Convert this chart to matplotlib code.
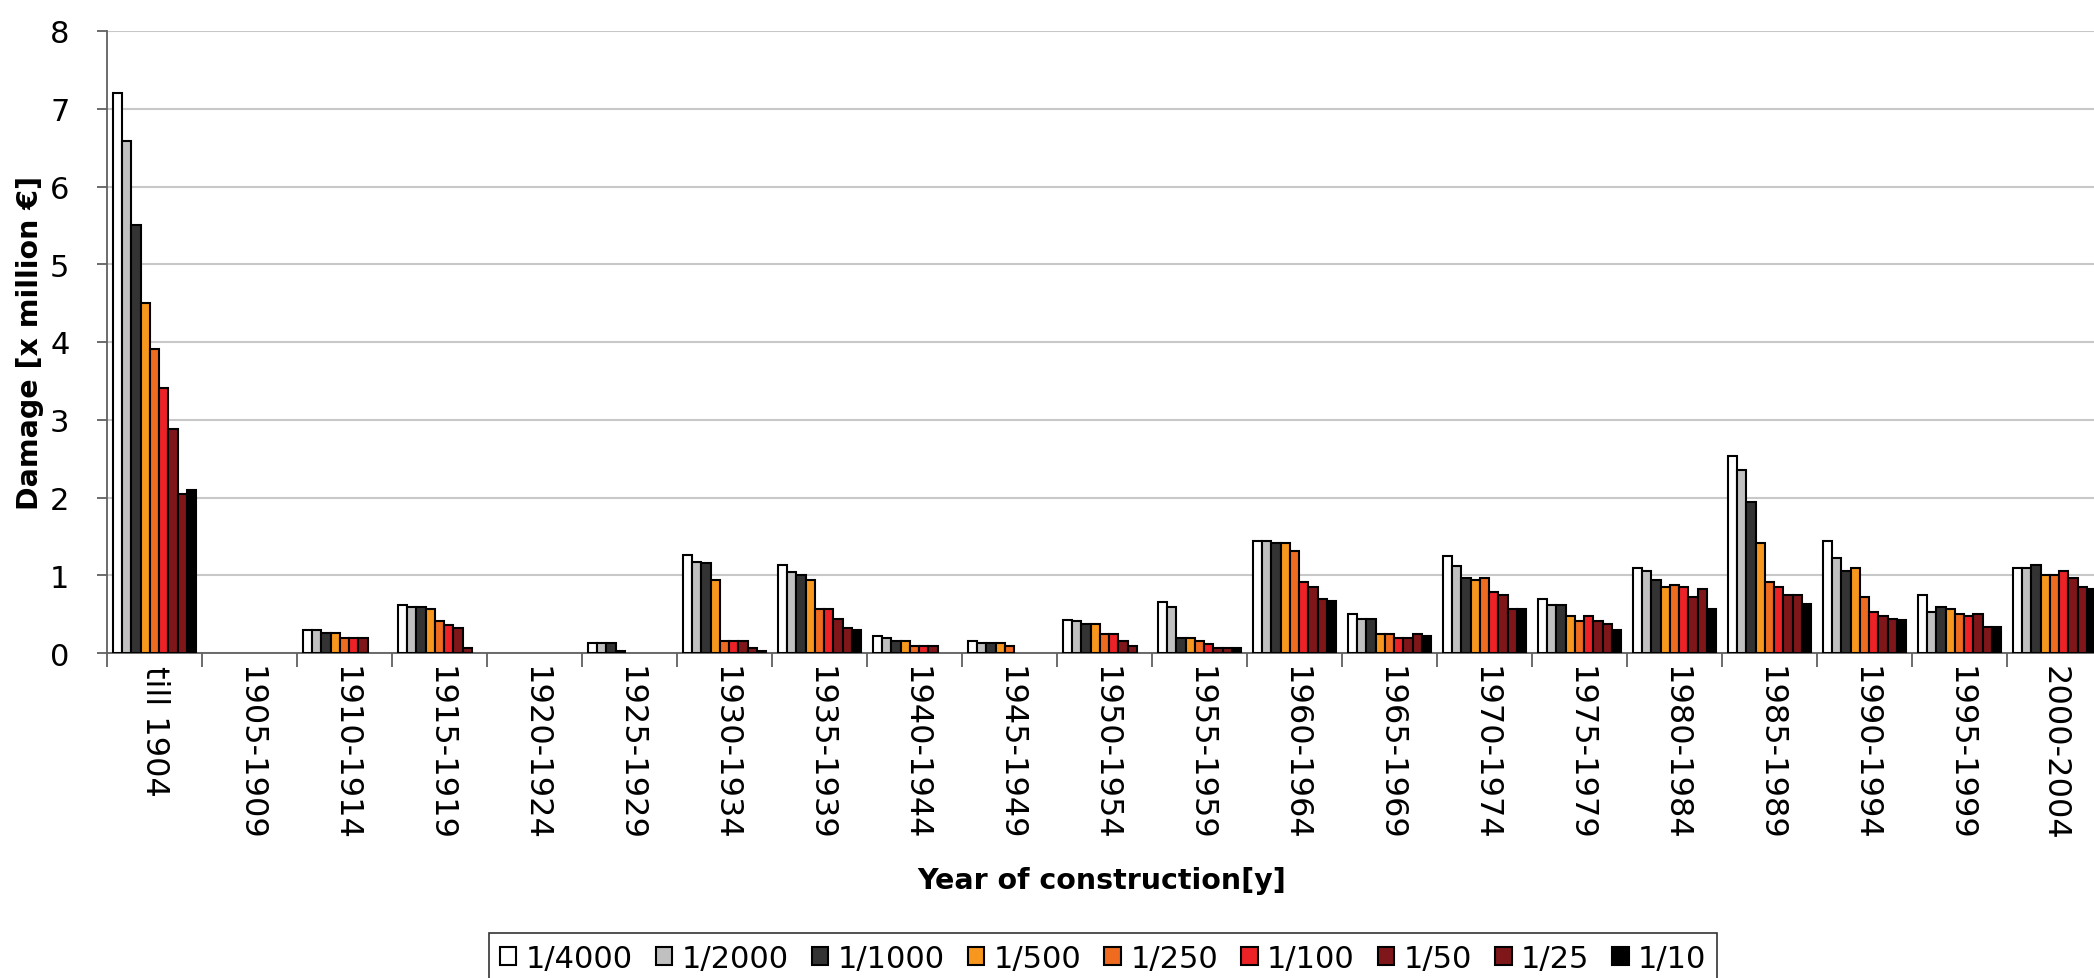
import numpy as np
import matplotlib
matplotlib.use("Agg")
import matplotlib.pyplot as plt

categories = ['till 1904', '1905-1909', '1910-1914', '1915-1919', '1920-1924',
              '1925-1929', '1930-1934', '1935-1939', '1940-1944', '1945-1949',
              '1950-1954', '1955-1959', '1960-1964', '1965-1969', '1970-1974',
              '1975-1979', '1980-1984', '1985-1989', '1990-1994', '1995-1999',
              '2000-2004']

series_names = ['1/4000', '1/2000', '1/1000', '1/500', '1/250', '1/100', '1/50', '1/25', '1/10']

p4000 = [7.20, 0, 0.29, 0.62, 0, 0.13, 1.26, 1.13, 0.22, 0.16, 0.43, 0.66, 1.44, 0.50, 1.25, 0.69, 1.09, 2.54, 1.44, 0.75, 1.09]
p2000 = [6.58, 0, 0.29, 0.59, 0, 0.13, 1.17, 1.04, 0.19, 0.13, 0.41, 0.59, 1.44, 0.44, 1.12, 0.62, 1.06, 2.35, 1.22, 0.53, 1.09]
p1000 = [5.50, 0, 0.26, 0.59, 0, 0.13, 1.16, 1.00, 0.16, 0.13, 0.37, 0.19, 1.41, 0.44, 0.97, 0.62, 0.94, 1.94, 1.06, 0.59, 1.13]
p500 = [4.50, 0, 0.26, 0.57, 0, 0.03, 0.94, 0.94, 0.16, 0.13, 0.37, 0.19, 1.41, 0.25, 0.94, 0.47, 0.85, 1.41, 1.09, 0.56, 1.00]
p250 = [3.91, 0, 0.19, 0.41, 0, 0, 0.16, 0.57, 0.09, 0.09, 0.24, 0.16, 1.31, 0.25, 0.97, 0.41, 0.88, 0.91, 0.72, 0.50, 1.00]
p100 = [3.41, 0, 0.19, 0.36, 0, 0, 0.16, 0.57, 0.09, 0, 0.24, 0.12, 0.91, 0.19, 0.78, 0.47, 0.85, 0.85, 0.53, 0.47, 1.06]
p50 = [2.88, 0, 0.19, 0.32, 0, 0, 0.16, 0.44, 0.09, 0, 0.15, 0.06, 0.85, 0.19, 0.75, 0.41, 0.72, 0.75, 0.47, 0.50, 0.97]
p25 = [2.04, 0, 0, 0.06, 0, 0, 0.07, 0.32, 0, 0, 0.09, 0.06, 0.69, 0.25, 0.57, 0.37, 0.82, 0.75, 0.44, 0.34, 0.85]
p10 = [2.10, 0, 0, 0, 0, 0, 0.03, 0.29, 0, 0, 0, 0.06, 0.67, 0.22, 0.57, 0.29, 0.57, 0.63, 0.42, 0.34, 0.82]

colors = ['#FFFFFF', '#C0C0C0', '#333333', '#F7971D', '#EE6B20', '#EC2227', '#7F1619', '#7F1619', '#000000']

plt.rcParams['font.family'] = 'DejaVu Sans'

fig = plt.figure(figsize=(20.94, 9.79), dpi=100)
# plot area runs slightly past the right edge, like the cropped original
ax = fig.add_axes([107 / 2094, 325 / 979, 1995 / 2094, 622 / 979])

x = np.arange(len(categories))
w = 0.097
data = [p4000, p2000, p1000, p500, p250, p100, p50, p25, p10]
for k, vals in enumerate(data):
    bars = ax.bar(x - 4 * w + k * w, vals, width=w, color=colors[k], edgecolor='black',
                  linewidth=1.5, label=series_names[k], zorder=3)
    # empty cells draw nothing
    for b, v in zip(bars, vals):
        if v == 0:
            b.set_visible(False)

ax.set_xlim(-0.5, len(categories) - 0.5)
ax.set_ylim(0, 8)
ax.set_yticks(range(0, 9))
ax.yaxis.grid(True, color='#C8C8C8', linewidth=1.5, zorder=0)
ax.set_axisbelow(True)

ax.set_xticks(np.arange(-0.5, len(categories), 1))
ax.set_xticklabels([])
ax.set_xticks(x, minor=True)
ax.set_xticklabels(categories, minor=True, rotation=-90, fontsize=23, va='top', ha='center')
ax.tick_params(axis='x', which='major', length=10, width=1.3, color='#606060', direction='out')
ax.tick_params(axis='x', which='minor', length=0, pad=9)
ax.tick_params(axis='y', length=7, width=1.3, color='#606060', labelsize=22, pad=20)

for s in ['top', 'right']:
    ax.spines[s].set_visible(False)
for s in ['left', 'bottom']:
    ax.spines[s].set_color('#606060')
    ax.spines[s].set_linewidth(1.3)

ax.set_ylabel('Damage [x million €]', fontsize=20.5, fontweight='bold', labelpad=4)
fig.text(1102 / 2094, 1 - 881 / 979, 'Year of construction[y]', fontsize=20.5,
         fontweight='bold', ha='center', va='center')

leg = fig.legend(loc='upper center', bbox_to_anchor=(1103 / 2094, 1 - 934 / 979), ncol=9,
                 fontsize=22, frameon=True, fancybox=False, edgecolor='black',
                 handlelength=0.55, handleheight=0.55, handletextpad=0.3,
                 columnspacing=0.75, borderpad=0.35, borderaxespad=0)
leg.get_frame().set_linewidth(1.2)

fig.savefig('out.png', dpi=100)
